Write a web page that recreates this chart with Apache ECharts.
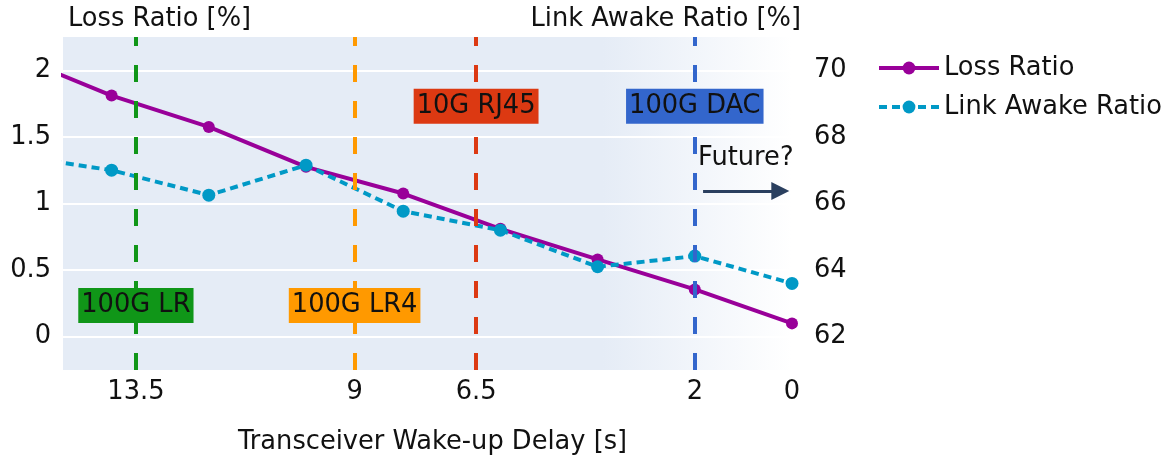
<!DOCTYPE html>
<html>
<head>
<meta charset="utf-8">
<script src="https://cdn.jsdelivr.net/npm/echarts@6/dist/echarts.min.js"></script>
<style>
  html, body { margin: 0; padding: 0; background: #fff; }
  #chart { width: 1171px; height: 457px; }
</style>
</head>
<body>
<div id="chart"></div>
<script>
// wake-up delay [s]; the point at 16 lies left of the visible range and gets clipped
const delays = [16, 14, 12, 10, 8, 6, 4, 2, 0]
const lossRatio = [2.11, 1.81, 1.575, 1.275, 1.075, 0.81, 0.58, 0.355, 0.1]
const awakeRatio = [67.44, 67.0, 66.25, 67.15, 65.77, 65.2, 64.1, 64.42, 63.6]

const xTicks = [13.5, 9, 6.5, 2, 0]
const leftTicks = [0, 0.5, 1, 1.5, 2]
const rightTicks = [62, 64, 66, 68, 70]

const linkNames = ['100G LR', '100G LR4', '10G RJ45', '100G DAC']
const linkDelays = [13.5, 9, 6.5, 2]
const linkColors = ['#109618', '#ff9900', '#dc3912', '#3366cc']

const font = 'DejaVu Sans'
const txt = '#111'
const fs = 25.7

const chart = echarts.init(document.getElementById('chart'))

const option = {
  animation: false,
  textStyle: { fontFamily: font },
  title: [
    {
      text: 'Loss Ratio [%]',
      left: 63,
      top: 1,
      textStyle: { fontSize: fs, fontWeight: 'normal', color: txt, fontFamily: font }
    },
    {
      text: 'Link Awake Ratio [%]',
      right: 365,
      top: 1,
      textStyle: { fontSize: fs, fontWeight: 'normal', color: txt, fontFamily: font }
    }
  ],
  legend: {
    left: 872,
    top: 50,
    orient: 'vertical',
    itemWidth: 60,
    itemHeight: 16,
    itemGap: 13,
    itemTextGap: 11,
    textStyle: { fontSize: fs, color: txt, fontFamily: font },
    data: [
      { name: 'Loss Ratio', lineStyle: { width: 4 } },
      { name: 'Link Awake Ratio', lineStyle: { width: 4 } }
    ]
  },
  grid: {
    left: 63,
    right: 379,
    top: 37,
    bottom: 87,
    outerBoundsMode: 'none',
    show: true,
    borderWidth: 0,
    backgroundColor: new echarts.graphic.LinearGradient(0, 0, 1, 0, [
      { offset: 0, color: '#e5ecf6' },
      { offset: 0.74, color: '#e5ecf6' },
      { offset: 1, color: '#ffffff' }
    ])
  },
  xAxis: {
    type: 'value',
    min: 0,
    max: 15,
    inverse: true,
    name: 'Transceiver Wake-up Delay [s]',
    nameLocation: 'middle',
    nameGap: 59,
    nameTextStyle: { fontSize: fs, color: txt, fontFamily: font, padding: [0, 0, 0, 10] },
    axisLine: { show: false },
    axisTick: { show: false, customValues: xTicks },
    splitLine: { show: false },
    axisLabel: {
      customValues: xTicks,
      fontSize: fs,
      color: txt,
      margin: 9
    }
  },
  yAxis: [
    {
      type: 'value',
      min: -0.25,
      max: 2.25,
      axisLine: { show: false },
      axisTick: { show: false, customValues: leftTicks },
      axisLabel: { customValues: leftTicks, fontSize: fs, color: txt, margin: 12 },
      splitLine: { show: true, lineStyle: { color: '#ffffff', width: 2 } }
    },
    {
      type: 'value',
      min: 61,
      max: 71,
      position: 'right',
      axisLine: { show: false },
      axisTick: { show: false, customValues: rightTicks },
      axisLabel: { customValues: rightTicks, fontSize: fs, color: txt, margin: 22 },
      splitLine: { show: false }
    }
  ],
  series: [
    {
      name: 'Loss Ratio',
      type: 'line',
      yAxisIndex: 0,
      data: delays.map((d, i) => [d, lossRatio[i]]),
      color: '#990099',
      symbol: 'circle',
      symbolSize: 12,
      lineStyle: { width: 4 },
      clip: true,
      z: 3,
      markPoint: {
        silent: true,
        z: 7,
        symbol: 'rect',
        symbolSize: 0,
        label: { show: true, color: txt, fontSize: fs, fontFamily: font },
        data: [
          {
            name: 'Future?',
            coord: [0.95, 1.34],
            label: { formatter: 'Future?', color: txt }
          }
        ].concat(linkNames.map((n, i) => ({
          name: n,
          coord: [linkDelays[i], i < 2 ? 0.234 : 1.731],
          label: {
            formatter: n,
            backgroundColor: linkColors[i],
            padding: [3, 3, 3, 3],
            lineHeight: 29
          }
        })))
      },
      markLine: {
        silent: true,
        z: 6,
        symbol: ['none', 'triangle'],
        symbolSize: 18,
        label: { show: false },
        lineStyle: { color: '#2a3f5f', width: 3, type: 'solid' },
        data: [
          [{ coord: [1.83, 1.094] }, { coord: [0.24, 1.094] }]
        ]
      }
    },
    {
      name: 'Link Awake Ratio',
      type: 'line',
      yAxisIndex: 1,
      data: delays.map((d, i) => [d, awakeRatio[i]]),
      color: '#0099c6',
      symbol: 'circle',
      symbolSize: 13,
      lineStyle: { width: 4, type: [8, 5] },
      clip: true,
      z: 4,
      markLine: {
        silent: true,
        z: 5,
        symbol: ['none', 'none'],
        label: { show: false },
        data: linkDelays.map((d, i) => ({
          xAxis: d,
          lineStyle: { color: linkColors[i], width: 4, type: [17, 19] }
        }))
      }
    }
  ]
}

chart.setOption(option)
</script>
</body>
</html>
